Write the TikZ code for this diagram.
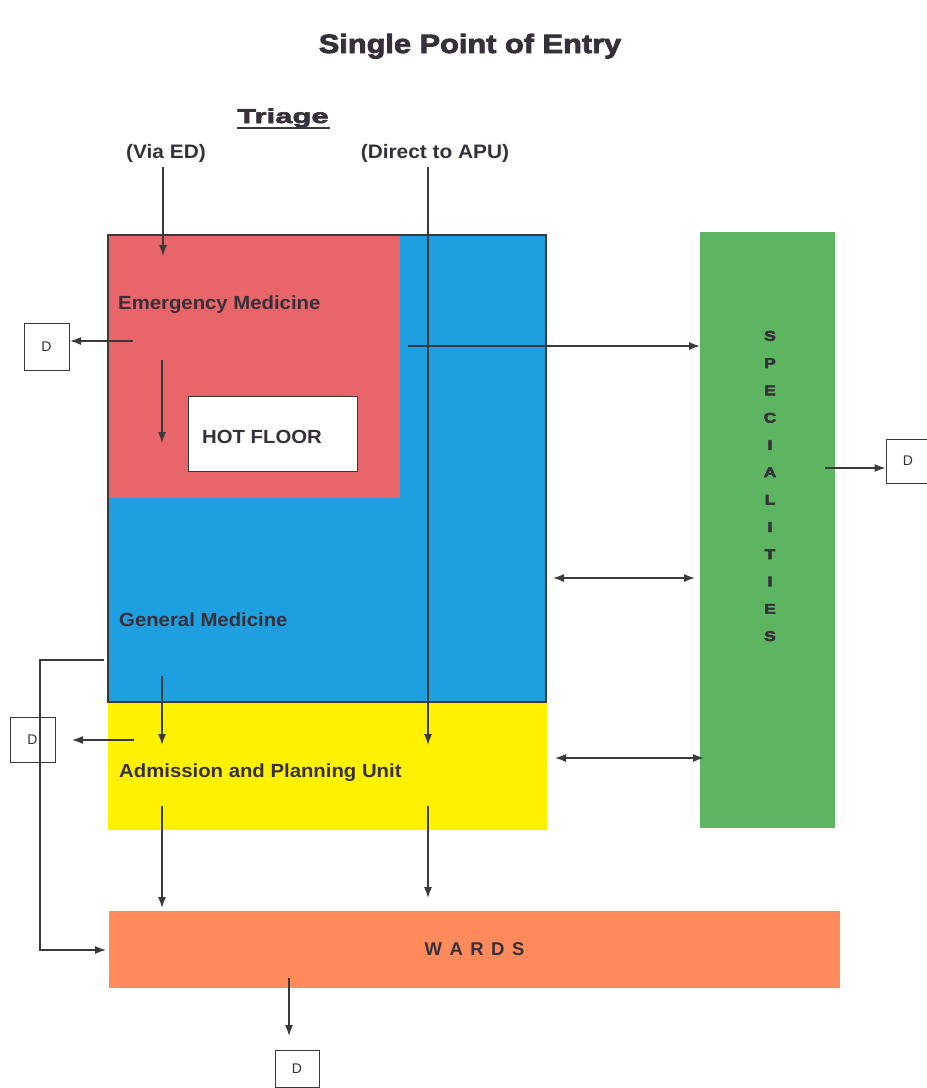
\documentclass[tikz,border=0pt]{standalone}
\usepackage{fontspec}
\setmainfont{Liberation Sans}
\newfontfamily\widesans{Liberation Sans}[FakeStretch=1.07]
\newfontfamily\titlesans{Liberation Sans}[FakeStretch=1.16,FakeBold=3]
\newfontfamily\triagesans{Liberation Sans}[FakeStretch=1.55,FakeBold=3]
\newfontfamily\specsans{Liberation Sans}[FakeStretch=1.25,FakeBold=4]
\usetikzlibrary{arrows.meta}
\definecolor{ink}{HTML}{3A3A3A}
\definecolor{txt}{HTML}{36303A}
\definecolor{emred}{HTML}{E8656A}
\definecolor{gmblue}{HTML}{1E9FE0}
\definecolor{apuyel}{HTML}{FFF200}
\definecolor{specgreen}{HTML}{5DB562}
\definecolor{wardorange}{HTML}{FF8A5B}
\begin{document}
\begin{tikzpicture}[x=1pt,y=-1pt,
  area/.style={anchor=north west,inner sep=0pt,outer sep=0pt,draw=none},
  lbl/.style={anchor=base west,inner sep=0pt,text=txt,font=\widesans\bfseries\fontsize{19}{22}\selectfont},
  head/.style={anchor=base,inner sep=0pt,text=txt},
  dbox/.style={draw=ink,line width=1pt,inner sep=0pt,text=txt,font=\fontsize{14}{16}\selectfont},
  conn/.style={draw=ink,line width=1.4pt},
  tip/.tip={Latex[length=11pt,width=8pt]},
  arr/.style={conn,-tip},
  darr/.style={conn,tip-tip}
]
\useasboundingbox (0,0) rectangle (927,1088);
\fill[white] (0,0) rectangle (927,1088);

% headings
\node[head,font=\titlesans\bfseries\fontsize{26.5}{30}\selectfont] (title) at (470,53) {Single Point of Entry};
\node[head,font=\triagesans\bfseries\fontsize{20}{24}\selectfont] (triage) at (283,123) {Triage};
\draw[ink,line width=1.8pt] (237,128) -- (330,128);
\node[head,font=\widesans\bfseries\fontsize{19.5}{22}\selectfont] (viaed) at (166,158) {(Via ED)};
\node[head,font=\widesans\bfseries\fontsize{19.5}{22}\selectfont] (direct) at (435,158) {(Direct to APU)};

% regions
\node[area,fill=gmblue,minimum width=438pt,minimum height=467pt] (gm) at (108,235) {};
\node[area,fill=emred,minimum width=292pt,minimum height=263pt] (em) at (108,235) {};
\node[area,fill=apuyel,minimum width=439pt,minimum height=128pt] (apu) at (108,702) {};
\draw[ink,line width=1.6pt] (gm.north west) rectangle (gm.south east);
\node[area,fill=white,draw=ink,line width=1pt,minimum width=169pt,minimum height=75pt] (hot) at (188,396) {};
\node[area,fill=specgreen,minimum width=135pt,minimum height=596pt] (spec) at (700,232) {};
\node[area,fill=wardorange,minimum width=731pt,minimum height=77pt,
      font=\bfseries\fontsize{18.5}{20}\selectfont,text=txt] (wards) at (109,911)
      {W\hspace{7.5pt}A\hspace{7.5pt}R\hspace{7.5pt}D\hspace{7.5pt}S};

% labels
\node[lbl] (emlabel) at (118,309) {Emergency Medicine};
\node[lbl] (hotlabel) at (202,443) {HOT FLOOR};
\node[lbl] (gmlabel) at (119,626) {General Medicine};
\node[lbl] (apulabel) at (119,777) {Admission and Planning Unit};
\node[inner sep=0pt,text=txt,align=center,font=\specsans\bfseries\fontsize{14}{27.3}\selectfont] (spectext) at (770,486)
  {S\\P\\E\\C\\I\\A\\L\\I\\T\\I\\E\\S};

% discharge boxes
\node[dbox,minimum width=45pt,minimum height=47pt] (d1) at (46.5,346.5) {D};
\node[dbox,minimum width=45pt,minimum height=45pt] (d2) at (32.5,739.5) {D};
\node[dbox,minimum width=44pt,minimum height=44pt] (d3) at (908,461) {D};
\node[dbox,minimum width=44pt,minimum height=37pt] (d4) at (297,1068.5) {D};

% connector end points
\coordinate (va) at (163,167);
\coordinate (vb) at (163,256);
\coordinate (da) at (428,167);
\coordinate (db) at (428,745);
\coordinate (e1) at (133,341);
\coordinate (e1t) at (70,341);
\coordinate (e2) at (162,360);
\coordinate (e2t) at (162,443);
\coordinate (g1) at (408,346);
\coordinate (g2) at (553,578);
\coordinate (g2t) at (695,578);
\coordinate (g3) at (104,660);
\coordinate (g4) at (162,676);
\coordinate (g4t) at (162,745);
\coordinate (a1) at (134,740);
\coordinate (a1t) at (72,740);
\coordinate (a2) at (555,758);
\coordinate (a2t) at (704,758);
\coordinate (a3) at (162,806);
\coordinate (a3t) at (162,908);
\coordinate (a4) at (428,806);
\coordinate (a4t) at (428,898);
\coordinate (s1) at (825,468);
\coordinate (w1) at (289,978);
\coordinate (w1t) at (289,1036);

% connectors
\draw[arr] (va) -- (vb);
\draw[arr] (da) -- (db);
\draw[arr] (e1) -- (e1t);
\draw[arr] (e2) -- (e2t);
\draw[arr] (g1) -- (g1 -| spec.west);
\draw[darr] (g2) -- (g2t);
\draw[arr] (g3) -- (40,660) -- (40,950) -- ([xshift=-3pt]wards.west |- 0,950);
\draw[arr] (g4) -- (g4t);
\draw[arr] (a1) -- (a1t);
\draw[darr] (a2) -- (a2t);
\draw[arr] (a3) -- (a3t);
\draw[arr] (a4) -- (a4t);
\draw[arr] (s1) -- (s1 -| d3.west);
\draw[arr] (w1) -- (w1t);
\end{tikzpicture}
\end{document}
